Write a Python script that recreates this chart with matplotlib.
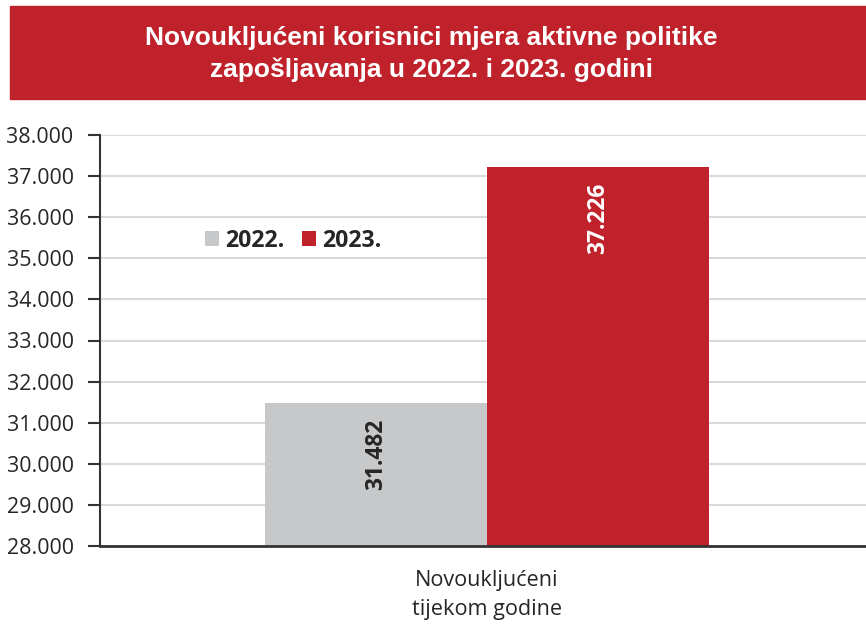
import matplotlib
matplotlib.use("Agg")
import matplotlib.pyplot as plt
from matplotlib.patches import Rectangle, Patch
from matplotlib.ticker import FuncFormatter, MultipleLocator

title_lines = ["Novoukljućeni korisnici mjera aktivne politike", "zapošljavanja u 2022. i 2023. godini"]
category = "Novoukljućeni\ntijekom godine"
series = ["2022.", "2023."]
values = [31482, 37226]
value_labels = ["31.482", "37.226"]
colors = ["#C7C8CA", "#C0222C"]
label_colors = ["#262626", "#FFFFFF"]
y_min, y_max, y_step = 28000, 38000, 1000

W, H = 866, 624
fig = plt.figure(figsize=(W / 100, H / 100), dpi=100)
plt.rcParams['font.family'] = ['Open Sans', 'DejaVu Sans']

# title banner
fig.patches.append(Rectangle((10 / W, 1 - 99 / H), 1 - 10 / W, 93 / H,
                             transform=fig.transFigure, color="#C0222C", zorder=0))
fig.text(431 / W, 1 - 38 / H, title_lines[0], ha="center", va="center", color="white",
         fontsize=19, fontweight="bold", family=["Liberation Sans", "DejaVu Sans"])
fig.text(431 / W, 1 - 70 / H, title_lines[1], ha="center", va="center", color="white",
         fontsize=19, fontweight="bold", family=["Liberation Sans", "DejaVu Sans"])

ax = fig.add_axes([100 / W, (H - 546) / H, 1 - 100 / W, (546 - 135) / H])
bar_w = 1.0
positions = [-0.5, 0.5]
for i, (p, v) in enumerate(zip(positions, values)):
    ax.bar(p, v - y_min, bottom=y_min, width=bar_w, color=colors[i], zorder=2)
    ax.annotate(value_labels[i], xy=(p, v), xytext=(0, -16), textcoords="offset pixels",
                rotation=90, ha="center", va="top", color=label_colors[i],
                fontsize=16.4, fontweight="bold", zorder=3)

ax.set_xlim((100 - 487) / 222, (866 - 487) / 222)
ax.set_ylim(y_min, y_max)
ax.yaxis.set_major_locator(MultipleLocator(y_step))
ax.yaxis.set_major_formatter(FuncFormatter(lambda v, _: f"{int(v):,}".replace(",", ".")))
ax.set_xticks([0])
ax.set_xticklabels([category], fontsize=15.6, color="#262626", linespacing=1.5)
ax.tick_params(axis="x", length=0, pad=17)
ax.tick_params(axis="y", length=9, width=1.5, color="#333333", labelsize=15.4,
               labelcolor="#262626", pad=10)
ax.grid(axis="y", color="#D9D9D9", linewidth=1.5, zorder=0)
ax.set_axisbelow(True)
for s in ["top", "right"]:
    ax.spines[s].set_visible(False)
ax.spines["left"].set_color("#333333")
ax.spines["left"].set_linewidth(1.5)
ax.spines["bottom"].set_color("#333333")
ax.spines["bottom"].set_linewidth(2)

handles = [Patch(facecolor=c, edgecolor="none") for c in colors]
leg = ax.legend(handles, series, ncol=2, frameon=False, loc="center left",
                bbox_to_anchor=(184 / W, 1 - 241 / H), bbox_transform=fig.transFigure,
                handlelength=0.6, handleheight=0.6, handletextpad=0.26, columnspacing=0.78,
                prop={"size": 16.7, "weight": "bold"})
for t in leg.get_texts():
    t.set_color("#262626")

fig.savefig("out.png", dpi=100)
